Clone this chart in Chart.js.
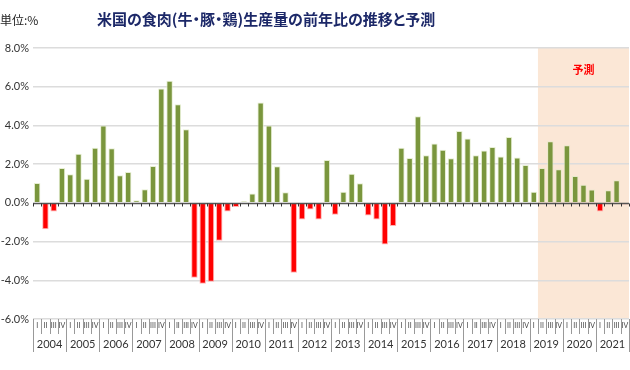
<!DOCTYPE html>
<html>
<head>
<meta charset="utf-8">
<script src="https://cdn.jsdelivr.net/npm/chart.js@4/dist/chart.umd.min.js"></script>
<style>
  body { margin: 0; background: #fff; }
  #wrap { position: relative; width: 630px; height: 370px; }
  #unit { position: absolute; left: 0; top: 11px; font: 12px 'Noto Sans CJK JP', sans-serif; color: #222; }
  #title { position: absolute; left: 97px; top: 8px; font: bold 15px 'Noto Sans CJK JP', sans-serif; color: #1c2868; white-space: nowrap; font-feature-settings: 'palt'; }
</style>
</head>
<body>
<div id="wrap">
  <canvas id="chart" width="630" height="370"></canvas>
  <div id="unit">単位:%</div>
  <div id="title">米国の食肉(牛・豚・鶏)生産量の前年比の推移と予測</div>
</div>
<script>
const years = [2004, 2005, 2006, 2007, 2008, 2009, 2010, 2011, 2012, 2013, 2014, 2015, 2016, 2017, 2018, 2019, 2020, 2021];
const quarters = ['I', 'II', 'III', 'IV'];
// year-on-year change, %, one value per quarter
const values = [
    1.03, -1.36, -0.45, 1.80,
    1.48, 2.54, 1.24, 2.85,
    4.00, 2.82, 1.43, 1.60,
    0.14, 0.70, 1.91, 5.91,
    6.31, 5.10, 3.80, -3.87,
    -4.18, -4.07, -1.96, -0.45,
    -0.22, 0.08, 0.48, 5.19,
    4.00, 1.89, 0.55, -3.61,
    -0.86, -0.34, -0.86, 2.22,
    -0.62, 0.58, 1.51, 1.01,
    -0.65, -0.86, -2.15, -1.19,
    2.85, 2.32, 4.47, 2.46,
    3.06, 2.75, 2.30, 3.71,
    3.32, 2.46, 2.71, 2.89,
    2.39, 3.40, 2.34, 1.96,
    0.58, 1.80, 3.18, 1.74,
    2.97, 1.39, 0.93, 0.69,
    -0.45, 0.65, 1.17, -0.09
];
const yTicks = [-6, -4, -2, 0, 2, 4, 6, 8];
const forecastStart = '2019-II';
const forecastText = '予測';

const labels = years.flatMap(y => quarters.map(q => y + '-' + q));

const GREEN = '#7a963d';
const RED = '#ff0000';

const halfStep = (x) => (x.getPixelForValue(1) - x.getPixelForValue(0)) / 2;

const forecastShade = {
    id: 'forecastShade',
    beforeDraw(chart) {
        const {ctx, chartArea, scales: {x}} = chart;
        const left = x.getPixelForValue(labels.indexOf(forecastStart)) - halfStep(x);
        ctx.save();
        ctx.fillStyle = '#fbe7d6';
        ctx.fillRect(left, chartArea.top, chartArea.right - left, chartArea.bottom - chartArea.top);
        ctx.fillStyle = '#ff0000';
        ctx.font = "bold 11px 'Noto Sans CJK JP', sans-serif";
        ctx.textAlign = 'center';
        ctx.textBaseline = 'middle';
        ctx.fillText(forecastText, (left + chartArea.right) / 2, chartArea.top + 22);
        ctx.restore();
    }
};

const zeroAxis = {
    id: 'zeroAxis',
    afterDatasetsDraw(chart) {
        const {ctx, chartArea, scales: {x, y}} = chart;
        const y0 = Math.round(y.getPixelForValue(0)) + 0.5;
        const h = halfStep(x);
        ctx.save();
        ctx.strokeStyle = '#555';
        ctx.lineWidth = 1.5;
        ctx.beginPath();
        ctx.moveTo(chartArea.left, y0);
        ctx.lineTo(chartArea.right, y0);
        ctx.stroke();
        ctx.lineWidth = 1;
        ctx.strokeStyle = '#333';
        ctx.beginPath();
        for (let i = 0; i <= labels.length; i++) {
            const px = Math.round(x.getPixelForValue(i) - h) + 0.5;
            ctx.moveTo(px, y0);
            ctx.lineTo(px, y0 + 3);
        }
        ctx.stroke();
        ctx.restore();
    }
};

const quarterAxis = {
    id: 'quarterAxis',
    afterDraw(chart) {
        const {ctx, chartArea, scales: {x}} = chart;
        const h = halfStep(x);
        const top = chartArea.bottom;
        ctx.save();
        // quarter separators + roman numerals
        ctx.strokeStyle = '#999';
        ctx.lineWidth = 1;
        ctx.beginPath();
        for (let i = 0; i <= labels.length; i++) {
            const px = Math.round(x.getPixelForValue(i) - h) + 0.5;
            ctx.moveTo(px, top);
            ctx.lineTo(px, top + (i % 4 === 0 ? 33 : 15));
        }
        ctx.stroke();
        ctx.fillStyle = '#444';
        ctx.font = "7px Lato, sans-serif";
        ctx.textAlign = 'center';
        ctx.textBaseline = 'middle';
        labels.forEach((l, i) => {
            ctx.fillText(quarters[i % 4], x.getPixelForValue(i), top + 7);
        });
        // years
        ctx.fillStyle = '#333';
        ctx.font = "11px Lato, sans-serif";
        years.forEach((yr, k) => {
            const cx = (x.getPixelForValue(k * 4) + x.getPixelForValue(k * 4 + 3)) / 2;
            ctx.fillText(String(yr), cx, top + 25);
        });
        ctx.restore();
    }
};

new Chart(document.getElementById('chart'), {
    type: 'bar',
    data: {
        labels: labels,
        datasets: [{
            data: values,
            backgroundColor: (c) => c.raw < 0 ? RED : GREEN,
            borderColor: (c) => c.raw < 0 ? 'rgba(255,170,170,0.9)' : 'rgba(225,235,200,0.8)',
            borderWidth: 1,
            barPercentage: 0.78,
            categoryPercentage: 1
        }]
    },
    options: {
        responsive: false,
        animation: false,
        layout: { padding: { left: 0, right: 1, top: 48, bottom: 51 } },
        plugins: { legend: { display: false }, tooltip: { enabled: false } },
        scales: {
            x: { display: false, offset: true },
            y: {
                min: -6,
                max: 8,
                afterFit: (s) => { s.width = 33; },
                afterBuildTicks: (s) => { s.ticks = yTicks.map(v => ({value: v})); },
                border: { display: false },
                grid: {
                    drawTicks: false,
                    lineWidth: 1.5,
                    color: (c) => c.tick && c.tick.value === 0 ? 'rgba(0,0,0,0)' : '#dcdcdc'
                },
                ticks: {
                    padding: 4,
                    color: '#333',
                    font: { family: 'Lato', size: 11 },
                    callback: (v) => v.toFixed(1) + '%'
                }
            }
        }
    },
    plugins: [forecastShade, zeroAxis, quarterAxis]
});
</script>
</body>
</html>
